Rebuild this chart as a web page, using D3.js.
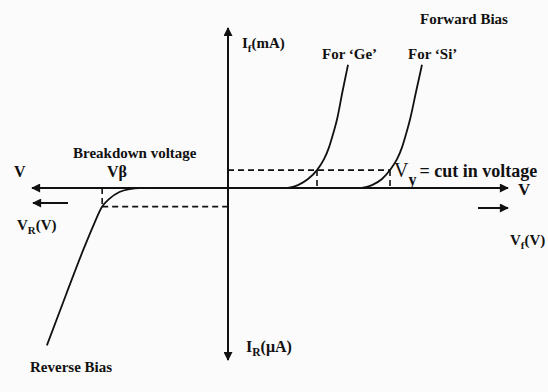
<!DOCTYPE html>
<html>
<head>
<meta charset="utf-8">
<script src="https://cdn.jsdelivr.net/npm/d3@7"></script>
<style>
  html, body { margin: 0; padding: 0; background: #fbfbfb; }
  text { font-family: 'Liberation Serif', 'DejaVu Serif', serif; fill: #111; font-weight: bold; }
</style>
</head>
<body>
<div id="chart"></div>
<script>
// forward characteristic, (volts, mA)
const geForward = [[0.30, 0], [0.35, 0.9], [0.40, 2.8], [0.445, 5.6], [0.48, 9.0], [0.505, 12.7], [0.525, 16.8], [0.545, 21.4], [0.572, 30.0], [0.60, 38.5]];
const siForward = [[0.67, 0], [0.72, 0.9], [0.77, 2.8], [0.81, 5.6], [0.845, 9.0], [0.87, 12.7], [0.89, 16.8], [0.91, 21.4], [0.94, 30.0], [0.97, 38.5]];
// reverse characteristic, (volts, uA)
const reverseCurve = [[-46.2, -91.5], [-41.3, -61.9], [-36.7, -34.7], [-34.1, -20.5], [-32.1, -10.8], [-30.3, -6.3], [-27.7, -2.3], [-25.1, -0.6], [-22.6, 0], [-18, 0]];
const cutInCurrent = 5.6;
const cutInVoltages = [0.445, 0.81];
const breakdown = [-32.1, -10.8];

const width = 548, height = 392;

const svg = d3.select('#chart').append('svg')
  .attr('width', width)
  .attr('height', height);

// piecewise scales: reverse side in V / uA, forward side in V / mA
const x = d3.scaleLinear().domain([-50, 0, 1.4]).range([32, 228, 508]);
const y = d3.scaleLinear().domain([-100, 0, 50]).range([360, 188, 28]);

const ink = '#111';

svg.append('defs').append('marker')
  .attr('id', 'arrow')
  .attr('viewBox', '0 0 10 10')
  .attr('refX', 9).attr('refY', 5)
  .attr('markerWidth', 11).attr('markerHeight', 9)
  .attr('markerUnits', 'userSpaceOnUse')
  .attr('orient', 'auto-start-reverse')
  .append('path')
  .attr('d', 'M0,0 L10,5 L0,10 Z')
  .attr('fill', ink);

// axes
svg.append('line')
  .attr('x1', x(-50)).attr('x2', x(1.4))
  .attr('y1', y(0)).attr('y2', y(0))
  .attr('stroke', ink).attr('stroke-width', 2)
  .attr('marker-start', 'url(#arrow)')
  .attr('marker-end', 'url(#arrow)');

svg.append('line')
  .attr('x1', x(0)).attr('x2', x(0))
  .attr('y1', y(-100)).attr('y2', y(50))
  .attr('stroke', ink).attr('stroke-width', 2)
  .attr('marker-start', 'url(#arrow)')
  .attr('marker-end', 'url(#arrow)');

// small direction arrows
svg.append('line')
  .attr('x1', 68).attr('x2', 33).attr('y1', 203).attr('y2', 203)
  .attr('stroke', ink).attr('stroke-width', 2)
  .attr('marker-end', 'url(#arrow)');
svg.append('line')
  .attr('x1', 478).attr('x2', 508).attr('y1', 208).attr('y2', 208)
  .attr('stroke', ink).attr('stroke-width', 2)
  .attr('marker-end', 'url(#arrow)');

// dashed guides
const dashed = svg.append('g')
  .attr('stroke', ink).attr('stroke-width', 1.6)
  .attr('stroke-dasharray', '6,4').attr('fill', 'none');

dashed.append('line')
  .attr('x1', x(0)).attr('x2', x(cutInVoltages[1]))
  .attr('y1', y(cutInCurrent)).attr('y2', y(cutInCurrent));

dashed.selectAll('.cutin')
  .data(cutInVoltages)
  .enter().append('line')
  .attr('x1', d => x(d)).attr('x2', d => x(d))
  .attr('y1', y(cutInCurrent)).attr('y2', y(0));

dashed.append('line')
  .attr('x1', x(breakdown[0])).attr('x2', x(breakdown[0]))
  .attr('y1', y(0)).attr('y2', y(breakdown[1]));
dashed.append('line')
  .attr('x1', x(breakdown[0])).attr('x2', x(0))
  .attr('y1', y(breakdown[1])).attr('y2', y(breakdown[1]));

// curves
const line = d3.line()
  .x(d => x(d[0]))
  .y(d => y(d[1]))
  .curve(d3.curveMonotoneX);

svg.selectAll('.curve')
  .data([geForward, siForward, reverseCurve])
  .enter().append('path')
  .attr('class', 'curve')
  .attr('d', line)
  .attr('fill', 'none')
  .attr('stroke', ink)
  .attr('stroke-width', 1.8);

// labels
function label(tx, ty, str, size) {
  return svg.append('text')
    .attr('x', tx).attr('y', ty)
    .attr('font-size', size || 15)
    .text(str);
}

label(420, 24, 'Forward Bias');
label(322, 59, 'For \u2018Ge\u2019');
label(408, 59, 'For \u2018Si\u2019');
label(73, 158, 'Breakdown voltage');
label(107, 177, 'V\u03b2', 16);
label(14, 177, 'V', 16);
label(518, 195, 'V', 17);
label(30, 372, 'Reverse Bias');

// texts with subscripts
function subLabel(tx, ty, main, sub, rest, size) {
  const t = svg.append('text')
    .attr('x', tx).attr('y', ty)
    .attr('font-size', size);
  t.append('tspan').text(main);
  t.append('tspan').attr('dy', 4).attr('font-size', size * 0.72).text(sub);
  t.append('tspan').attr('dy', -4).text(rest);
  return t;
}

subLabel(242, 48, 'I', 'f', '(mA)', 15);
subLabel(246, 352, 'I', 'R', '(\u03bcA)', 16);
subLabel(17, 230, 'V', 'R', '(V)', 15);
subLabel(510, 245, 'V', 'f', '(V)', 15);

const vy = svg.append('text').attr('x', 394).attr('y', 177);
vy.append('tspan').attr('font-size', 20).style('font-weight', 'normal').text('V');
vy.append('tspan').attr('font-size', 16).attr('dy', 8).text('y');
vy.append('tspan').attr('font-size', 18).attr('dy', -8).attr('dx', 3).text('= cut in voltage');
</script>
</body>
</html>
